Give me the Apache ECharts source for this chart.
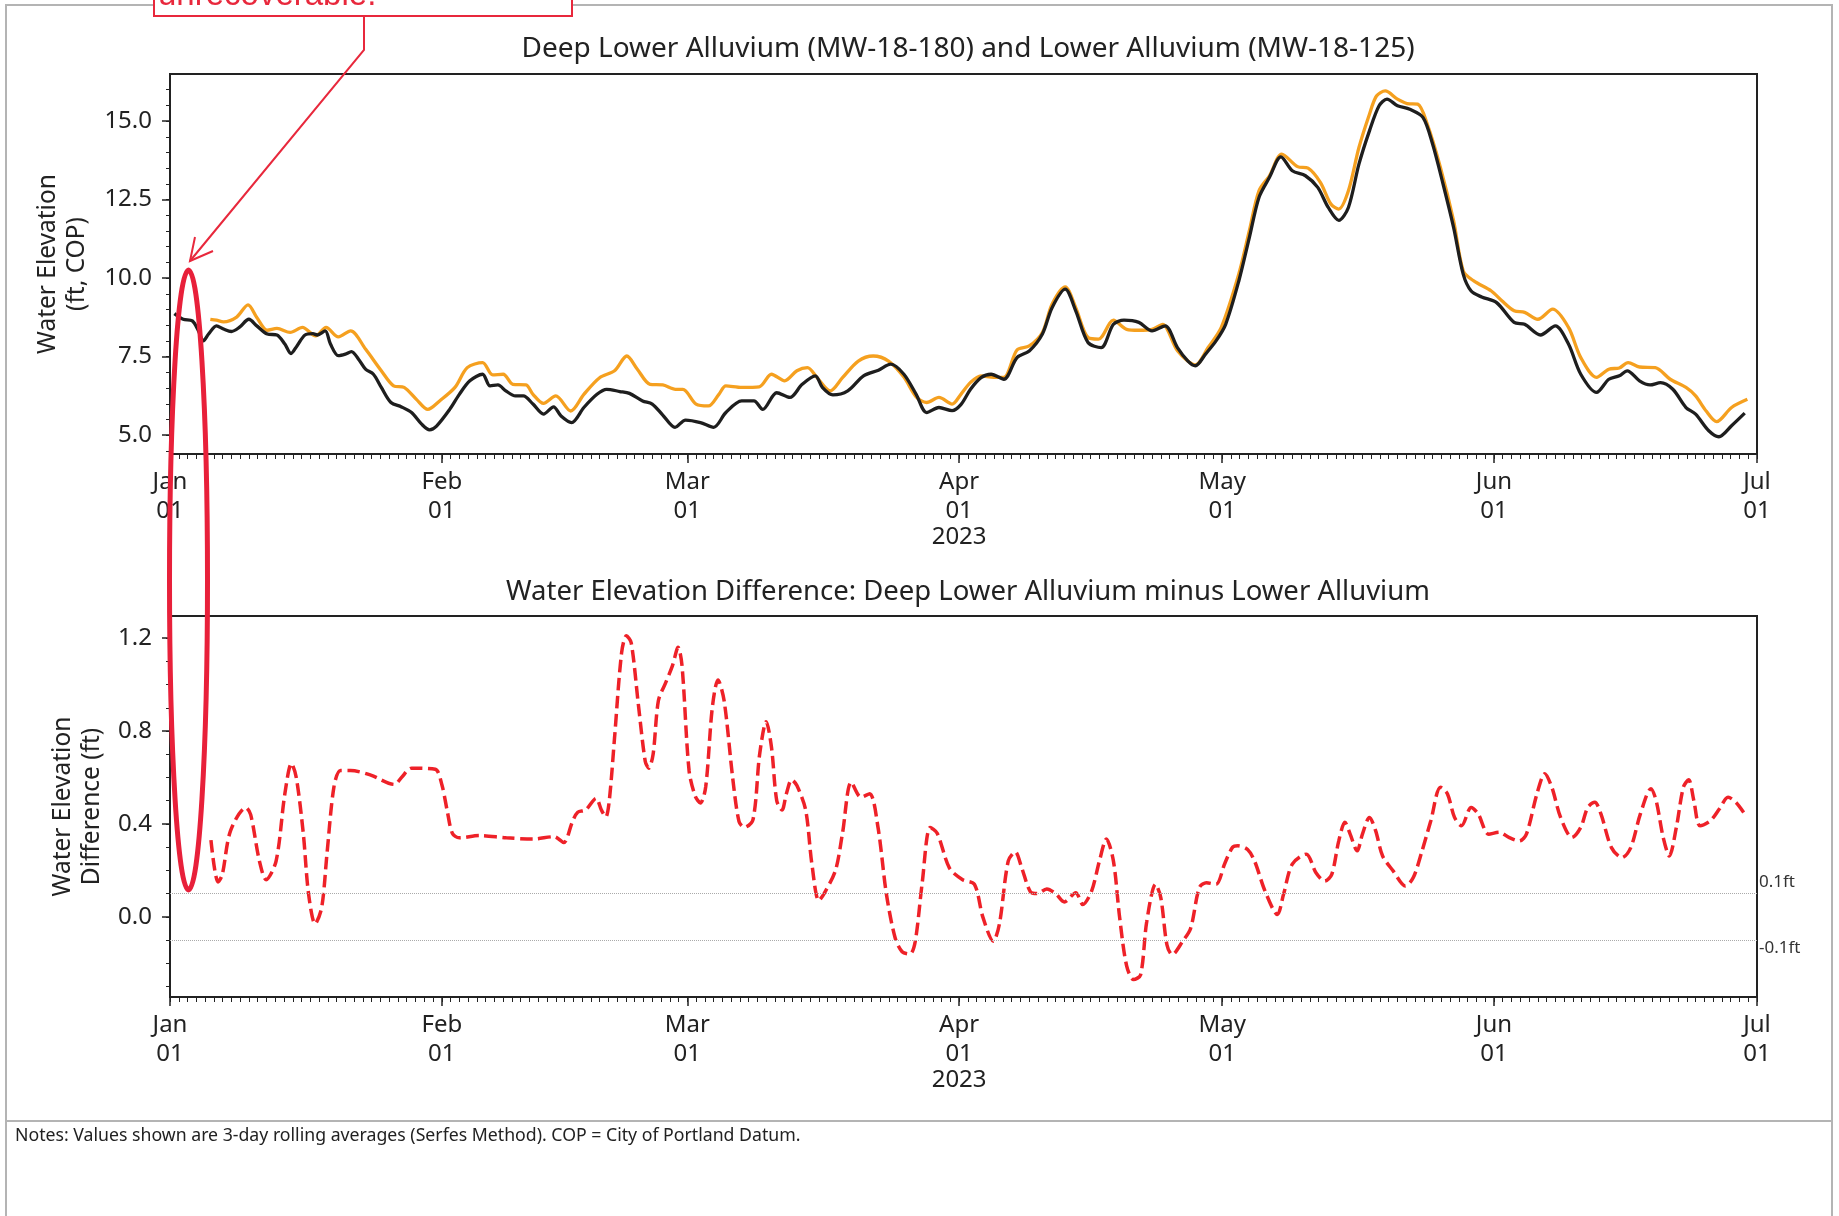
<!DOCTYPE html>
<html><head><meta charset="utf-8">
<script src="https://cdn.jsdelivr.net/npm/echarts@6/dist/echarts.min.js"></script>
<style>html,body{margin:0;padding:0;background:#fff}#c{width:1839px;height:1216px}</style>
</head><body><div id="c"></div>
<script>
// ---- tick labels / categories ----
const monthTickDays = [0, 31, 59, 90, 120, 151, 181];
const monthTickLabels = ['Jan\n01', 'Feb\n01', 'Mar\n01', 'Apr\n01\n{yr|2023}', 'May\n01', 'Jun\n01', 'Jul\n01'];
const topTickValues = [5, 7.5, 10, 12.5, 15];
const topMinorValues = [4.5, 5, 5.5, 6, 6.5, 7, 7.5, 8, 8.5, 9, 9.5, 10, 10.5, 11, 11.5, 12, 12.5, 13, 13.5, 14, 14.5, 15, 15.5, 16];
const diffTickValues = [0, 0.4, 0.8, 1.2];
const diffMinorValues = [-0.3, -0.2, -0.1, 0, 0.1, 0.2, 0.3, 0.4, 0.5, 0.6, 0.7, 0.8, 0.9, 1.0, 1.1, 1.2];
const thresholdValues = [0.1, -0.1];
const thresholdLabels = ['0.1ft', '-0.1ft'];

// ---- Lower Alluvium (MW-18-125), black; x = days since 2023-01-01 ----
const lowerDays = [0.5,1.5,2.55,3.25,3.8,4.4,5.3,6.1,7.0,7.9,9.0,9.9,11.1,12.2,13.1,13.8,14.5,15.4,16.3,16.8,17.7,18.3,19.2,20.0,20.7,21.5,22.3,23.2,24.1,25.2,26.4,27.55,28.7,29.6,30.4,31.9,33.0,34.2,35.65,36.5,37.4,38.3,39.4,40.3,41.4,42.6,43.75,44.6,45.8,47.2,48.7,49.8,51.3,52.4,53.9,55.0,56.2,57.6,58.8,60.5,62.0,63.4,65.2,66.6,67.6,69.2,70.7,72.1,73.6,74.4,75.6,77.3,79.1,80.8,82.2,83.7,85.1,86.3,87.7,89.2,90.2,91.3,92.5,93.65,95.1,96.6,98.0,99.5,100.6,102.1,103.3,104.7,106.2,107.6,108.8,110.5,112.0,113.5,114.9,116.1,116.95,118.1,119.3,120.4,121.9,123.1,124.2,125.4,126.7,128.0,129.5,130.9,132.1,133.3,134.4,135.6,136.8,137.9,138.8,140.0,141.4,142.9,144.0,145.2,146.4,147.5,148.4,149.6,151.3,153.3,154.5,156.3,158.0,159.5,160.9,162.7,164.1,165.3,166.2,167.6,168.8,170.0,171.4,172.9,174.0,175.5,176.65,178.1,179.6];
const lowerVals = [8.87,8.69,8.64,8.32,8.0,8.22,8.48,8.38,8.30,8.43,8.69,8.48,8.22,8.19,7.90,7.60,7.85,8.19,8.23,8.19,8.32,7.90,7.53,7.58,7.66,7.42,7.10,6.94,6.52,6.04,5.90,5.72,5.35,5.17,5.29,5.82,6.30,6.73,6.94,6.57,6.60,6.41,6.25,6.25,5.99,5.67,5.90,5.61,5.40,5.88,6.30,6.46,6.39,6.33,6.09,5.99,5.64,5.25,5.48,5.40,5.25,5.72,6.09,6.09,5.82,6.35,6.20,6.62,6.89,6.52,6.28,6.41,6.89,7.07,7.26,6.94,6.30,5.72,5.88,5.78,5.97,6.46,6.83,6.94,6.78,7.47,7.68,8.22,9.06,9.65,8.96,7.95,7.79,8.53,8.66,8.59,8.32,8.48,7.79,7.36,7.21,7.58,8.00,8.53,9.91,11.29,12.57,13.21,13.86,13.42,13.26,12.89,12.25,11.84,12.25,13.63,14.69,15.49,15.70,15.49,15.38,15.12,14.27,12.99,11.61,10.12,9.59,9.40,9.22,8.59,8.53,8.19,8.48,7.90,6.94,6.36,6.78,6.89,7.05,6.73,6.60,6.67,6.46,5.88,5.67,5.14,4.95,5.30,5.70];

// ---- Deep Lower Alluvium (MW-18-180), orange ----
const deepDays = [4.6,5.3,6.1,7.6,8.9,9.9,11.1,12.2,13.7,15.1,16.6,17.8,19.2,20.6,22.3,24.1,25.5,26.7,28.1,29.4,30.75,32.5,33.9,35.65,36.8,38.0,39.1,40.6,41.4,42.6,44.0,45.7,47.2,49.0,50.7,52.1,53.3,54.75,56.2,57.65,58.5,60.0,61.4,62.6,63.4,65.2,67.2,68.6,70.1,71.5,72.7,73.8,75.3,76.7,78.5,80.2,81.95,83.7,85.1,86.3,87.7,89.2,90.2,91.3,92.5,93.95,95.1,96.6,98.0,99.5,100.6,102.1,103.3,104.7,105.9,107.6,109.1,110.5,112.0,113.2,114.9,116.95,118.4,119.9,121.9,123.1,124.2,125.4,126.8,128.6,129.8,131.2,132.4,133.3,134.4,135.6,136.8,137.6,138.6,140.0,141.1,142.3,143.4,144.9,146.4,147.5,148.7,150.7,151.9,153.3,154.5,156.0,157.7,159.5,160.9,162.7,164.1,165.3,166.3,167.6,169.4,171.1,172.9,174.0,175.2,176.4,178.1,179.9];
const deepVals = [8.69,8.66,8.61,8.76,9.15,8.75,8.34,8.40,8.27,8.43,8.16,8.43,8.13,8.32,7.74,7.05,6.57,6.52,6.14,5.82,6.09,6.52,7.15,7.31,6.92,6.94,6.62,6.60,6.30,6.01,6.25,5.77,6.30,6.83,7.05,7.52,7.10,6.62,6.60,6.46,6.46,5.99,5.93,6.30,6.57,6.52,6.54,6.94,6.73,7.05,7.15,6.83,6.41,6.83,7.36,7.52,7.36,6.85,6.22,6.04,6.20,5.99,6.30,6.68,6.89,6.84,6.84,7.71,7.84,8.27,9.17,9.72,9.06,8.11,8.06,8.66,8.37,8.34,8.37,8.53,7.69,7.24,7.79,8.43,10.13,11.51,12.78,13.26,13.95,13.55,13.50,13.05,12.36,12.20,12.78,14.16,15.22,15.80,15.96,15.70,15.56,15.54,14.90,13.52,11.82,10.23,9.91,9.59,9.28,8.96,8.91,8.69,9.01,8.43,7.47,6.84,7.10,7.14,7.31,7.17,7.15,6.78,6.52,6.25,5.77,5.43,5.88,6.14];

// ---- Difference (Deep minus Lower), red dashed ----
const diffDays = [4.67,5.48,5.95,6.9,8.65,9.2,10.2,10.96,12.1,13.1,13.85,14.4,15.2,15.8,16.55,17.3,17.9,18.7,19.45,20.6,22.9,25.6,26.4,27.55,30.25,31.0,31.6,32.2,33.0,35.3,38.35,41.4,43.8,44.9,45.9,46.5,47.4,48.6,49.2,49.7,50.1,50.7,51.5,52.05,52.6,53.4,54.2,54.6,55.1,55.7,56.5,57.3,57.95,58.4,59.2,59.9,60.5,61.1,61.85,62.5,63.2,64.2,64.9,65.5,66.5,67.25,68.0,68.6,69.2,69.8,70.3,70.9,71.5,72.5,73.2,74.0,74.6,75.9,76.7,77.7,78.8,79.8,80.75,81.7,82.7,83.5,84.4,85.0,85.8,86.7,87.5,88.9,90.4,91.75,92.7,93.9,94.6,95.6,96.4,97.15,98.1,98.9,100.0,101.0,102.0,103.3,104.1,105.1,106.0,106.8,107.6,108.3,109.1,109.9,110.7,111.4,112.4,113.0,113.7,114.3,115.5,116.4,117.4,118.2,119.3,120.3,121.2,121.8,122.9,123.7,124.9,126.3,127.0,128.0,129.6,130.7,131.7,132.5,133.3,134.0,134.6,135.4,136.0,136.8,137.5,138.3,139.5,140.9,141.8,142.8,143.8,144.9,145.7,146.5,147.3,148.4,149.2,150.4,151.6,152.7,153.9,154.7,155.9,156.8,157.6,158.6,159.9,160.9,161.7,162.5,163.2,164.4,165.6,166.6,167.7,168.9,169.5,170.3,171.0,171.8,172.6,173.2,173.8,174.5,175.7,176.7,177.7,178.6,179.6];
const diffVals = [0.33,0.15,0.18,0.37,0.47,0.44,0.24,0.16,0.24,0.53,0.66,0.60,0.36,0.10,-0.03,0.04,0.27,0.56,0.63,0.63,0.61,0.57,0.60,0.64,0.635,0.57,0.46,0.36,0.34,0.35,0.34,0.335,0.345,0.32,0.41,0.45,0.46,0.51,0.46,0.43,0.50,0.77,1.135,1.21,1.18,0.92,0.67,0.64,0.70,0.93,1.005,1.08,1.16,1.08,0.63,0.52,0.49,0.56,0.90,1.02,0.93,0.59,0.41,0.385,0.42,0.70,0.84,0.73,0.50,0.46,0.53,0.59,0.565,0.46,0.23,0.07,0.10,0.20,0.36,0.58,0.515,0.53,0.385,0.10,-0.09,-0.15,-0.16,-0.105,0.15,0.385,0.36,0.21,0.16,0.14,0.0,-0.105,-0.03,0.24,0.28,0.21,0.11,0.10,0.12,0.10,0.064,0.104,0.053,0.11,0.24,0.335,0.24,0.0,-0.21,-0.27,-0.25,-0.02,0.14,0.083,-0.12,-0.163,-0.105,-0.05,0.126,0.147,0.14,0.23,0.30,0.306,0.29,0.24,0.11,0.01,0.097,0.227,0.27,0.19,0.154,0.183,0.327,0.407,0.356,0.284,0.356,0.428,0.371,0.262,0.198,0.133,0.169,0.284,0.414,0.558,0.529,0.428,0.392,0.471,0.443,0.356,0.364,0.342,0.327,0.356,0.529,0.616,0.558,0.428,0.342,0.385,0.471,0.493,0.443,0.298,0.255,0.298,0.443,0.551,0.50,0.342,0.262,0.385,0.558,0.59,0.50,0.392,0.414,0.464,0.515,0.493,0.443];

const topTitle = 'Deep Lower Alluvium (MW-18-180) and Lower Alluvium (MW-18-125)';
const bottomTitle = 'Water Elevation Difference: Deep Lower Alluvium minus Lower Alluvium';
const notesText = 'Notes: Values shown are 3-day rolling averages (Serfes Method). COP = City of Portland Datum.';
const annotationText = 'unrecoverable.';

// ---- build ----
const FONT = 'Noto Sans';
const INK = '#222';
const pairs = (xs, ys) => xs.map((x, i) => [x, ys[i]]);
const dayTicks = [];
for (let d = 0; d <= 181; d++) dayTicks.push(d);

function xAxesFor(gi) {
  return [
    { type: 'value', gridIndex: gi, position: 'bottom', min: 0, max: 181,
      axisLine: { show: true, onZero: false, lineStyle: { color: INK, width: 2 } },
      axisTick: { show: true, customValues: monthTickDays, length: 9, lineStyle: { color: INK, width: 1.5 } },
      axisLabel: { show: true, customValues: monthTickDays, margin: 14, fontFamily: FONT, fontSize: 24, lineHeight: 29, color: INK,
        rich: { yr: { fontFamily: FONT, fontSize: 24, lineHeight: 23, color: INK, verticalAlign: 'bottom' } },
        formatter: v => { const i = monthTickDays.indexOf(Math.round(v)); return i >= 0 ? monthTickLabels[i] : ''; } },
      splitLine: { show: false } },
    { type: 'value', gridIndex: gi, position: 'bottom', min: 0, max: 181,
      axisLine: { show: false, onZero: false },
      axisTick: { show: true, customValues: dayTicks, length: 5, lineStyle: { color: INK, width: 1 } },
      axisLabel: { show: false }, splitLine: { show: false } }
  ];
}
function yAxesFor(gi, min, max, majors, minors, name, gap, decimals) {
  return [
    { type: 'value', gridIndex: gi, position: 'left', min: min, max: max,
      name: name, nameLocation: 'middle', nameGap: gap, nameRotate: 90,
      nameTextStyle: { fontFamily: FONT, fontSize: 24.5, lineHeight: 29, color: INK },
      axisLine: { show: true, onZero: false, lineStyle: { color: INK, width: 2 } },
      axisTick: { show: true, customValues: majors, length: 8, lineStyle: { color: INK, width: 1.5 } },
      axisLabel: { show: true, customValues: majors, margin: 18, fontFamily: FONT, fontSize: 24, color: INK,
        formatter: v => Number(v).toFixed(decimals) },
      splitLine: { show: false } },
    { type: 'value', gridIndex: gi, position: 'left', min: min, max: max,
      axisLine: { show: false, onZero: false },
      axisTick: { show: true, customValues: minors, length: 4, lineStyle: { color: INK, width: 1 } },
      axisLabel: { show: false }, splitLine: { show: false } }
  ];
}

const chart = echarts.init(document.getElementById('c'), null, { renderer: 'canvas' });
chart.setOption({
  backgroundColor: '#fff',
  animation: false,
  title: [
    { text: topTitle, left: 963, top: 30, textAlign: 'center', textStyle: { fontFamily: FONT, fontSize: 28, fontWeight: 'normal', color: INK } },
    { text: bottomTitle, left: 963, top: 573, textAlign: 'center', textStyle: { fontFamily: FONT, fontSize: 27.5, fontWeight: 'normal', color: INK } }
  ],
  grid: [
    { left: 170, top: 74, width: 1587, height: 380, show: true, borderColor: INK, borderWidth: 2, backgroundColor: '#fff' },
    { left: 170, top: 616, width: 1587, height: 381, show: true, borderColor: INK, borderWidth: 2, backgroundColor: '#fff' }
  ],
  xAxis: [...xAxesFor(0), ...xAxesFor(1)],
  yAxis: [
    ...yAxesFor(0, 4.4, 16.5, topTickValues, topMinorValues, 'Water Elevation\n(ft, COP)', 78, 1),
    ...yAxesFor(1, -0.345, 1.295, diffTickValues, diffMinorValues, 'Water Elevation\nDifference (ft)', 63, 1)
  ],
  series: [
    { name: 'Deep Lower Alluvium (MW-18-180)', type: 'line', xAxisIndex: 0, yAxisIndex: 0,
      data: pairs(deepDays, deepVals), showSymbol: false, smooth: 0.3,
      lineStyle: { color: '#f5a01f', width: 3.3 }, z: 3 },
    { name: 'Lower Alluvium (MW-18-125)', type: 'line', xAxisIndex: 0, yAxisIndex: 0,
      data: pairs(lowerDays, lowerVals), showSymbol: false, smooth: 0.3,
      lineStyle: { color: '#1e1e1e', width: 3.3 }, z: 4 },
    { name: 'Difference', type: 'line', xAxisIndex: 2, yAxisIndex: 2,
      data: pairs(diffDays, diffVals), showSymbol: false, smooth: 0.3,
      lineStyle: { color: '#ee2128', width: 3.5, type: [12.5, 5.5] }, z: 4,
      markLine: { silent: true, symbol: ['none', 'none'], animation: false,
        lineStyle: { type: 'dotted', color: '#aaaaaa', width: 1 },
        label: { show: true, position: 'end', distance: 2, fontFamily: FONT, fontSize: 17, color: '#333' },
        data: thresholdValues.map((v, i) => ({ yAxis: v, label: { formatter: thresholdLabels[i], offset: [0, v > 0 ? -11 : 8] } })) } }
  ],
  graphic: [
    { type: 'rect', shape: { x: 6, y: 5, width: 1826, height: 1300 }, style: { fill: 'none', stroke: '#b4b4b4', lineWidth: 2 }, z: -10, silent: true },
    { type: 'line', shape: { x1: 7, y1: 1121, x2: 1832, y2: 1121 }, style: { stroke: '#b4b4b4', lineWidth: 2 }, silent: true },
    { type: 'text', x: 15, y: 1136, style: { text: notesText, font: '17.7px "Noto Sans"', fill: INK, verticalAlign: 'middle' }, silent: true },
    { type: 'rect', shape: { x: 154, y: -60, width: 418, height: 76 }, style: { fill: '#fff', stroke: '#e8283c', lineWidth: 2 }, z: 50, silent: true },
    { type: 'text', x: 158, y: -4, style: { text: annotationText, font: '33px "Liberation Sans"', fill: '#e8283c', verticalAlign: 'middle' }, z: 51, silent: true },
    { type: 'polyline', shape: { points: [[364, 16], [364, 50], [190, 261]] }, style: { fill: 'none', stroke: '#e8283c', lineWidth: 2 }, z: 50, silent: true },
    { type: 'polyline', shape: { points: [[195, 237], [190, 261], [213, 251]] }, style: { fill: 'none', stroke: '#e8283c', lineWidth: 2 }, z: 50, silent: true },
    { type: 'ellipse', shape: { cx: 188.5, cy: 580, rx: 19, ry: 310 }, style: { fill: 'none', stroke: '#e8203a', lineWidth: 5 }, z: 50, silent: true }
  ]
});
</script>
</body></html>
